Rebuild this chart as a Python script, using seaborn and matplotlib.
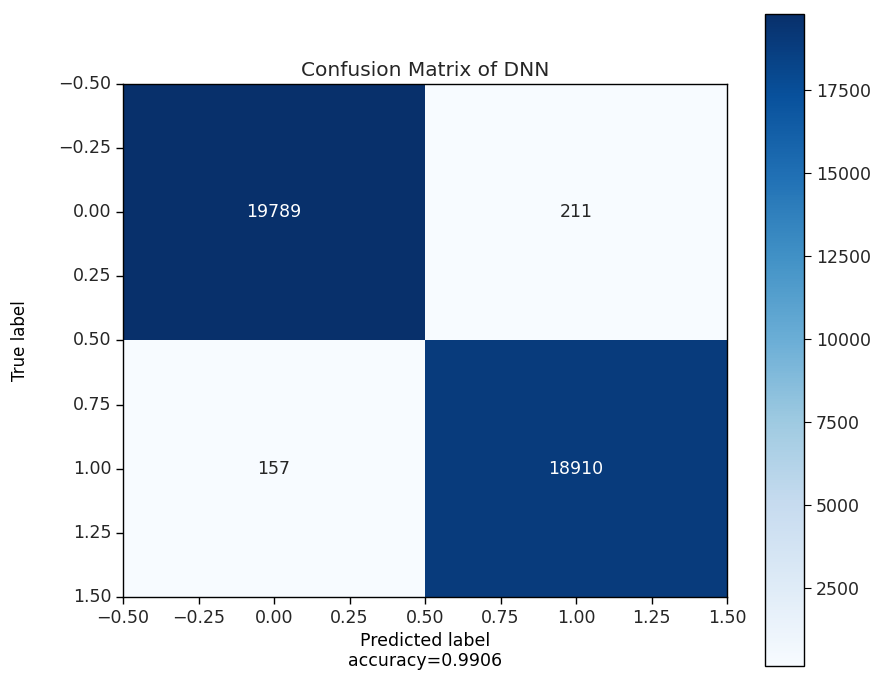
import numpy as np
import matplotlib
matplotlib.use("Agg")
import matplotlib.pyplot as plt
import seaborn as sns
from matplotlib.ticker import MultipleLocator, FuncFormatter

plt.rcParams['font.family'] = ['DejaVu Sans']
plt.rcParams['text.color'] = '#262626'
plt.rcParams['xtick.labelcolor'] = '#262626'
plt.rcParams['ytick.labelcolor'] = '#262626'

# confusion matrix values
classes = ["0", "1"]
cm = np.array([[19789, 211],
               [157, 18910]])
accuracy = 0.9906
cbar_ticks = [2500, 5000, 7500, 10000, 12500, 15000, 17500]

fig = plt.figure(figsize=(8.87, 6.77), dpi=100)
ax = fig.add_axes([0.1387, 0.1182, 0.681, 0.7578])
cax = fig.add_axes([0.8625, 0.0162, 0.044, 0.963])

sns.heatmap(cm, ax=ax, cbar_ax=cax, cmap="Blues", annot=True, fmt="d",
            annot_kws={"fontsize": 12.5}, square=False,
            vmin=cm.min(), vmax=cm.max())

# imshow-like axes: ticks every 0.25 cell, centred labels
def fmt(v, pos):
    s = f"{v - 0.5:.2f}"
    if s == "-0.00":
        s = "0.00"
    return s.replace("-", "\u2212")

for axis in (ax.xaxis, ax.yaxis):
    axis.set_major_locator(MultipleLocator(0.25))
    axis.set_major_formatter(FuncFormatter(fmt))
ax.tick_params(labelsize=12.5, length=5, width=1, rotation=0)
for sp in ax.spines.values():
    sp.set_visible(True)
    sp.set_linewidth(1)
    sp.set_color("black")

ax.set_title("Confusion Matrix of DNN", fontsize=14.5)
ax.set_ylabel("True label", fontsize=12)
ax.yaxis.set_label_coords(-0.155, 0.5)
ax.set_xlabel(f"Predicted label\naccuracy={accuracy:.4f}", fontsize=12.5,
              linespacing=1.1)

cb = ax.collections[0].colorbar
cb.set_ticks(cbar_ticks)
cb.ax.tick_params(labelsize=12.5, length=5)
cb.outline.set_visible(True)
cb.outline.set_linewidth(1)
cb.outline.set_edgecolor("black")

fig.savefig("out.png", dpi=100)
